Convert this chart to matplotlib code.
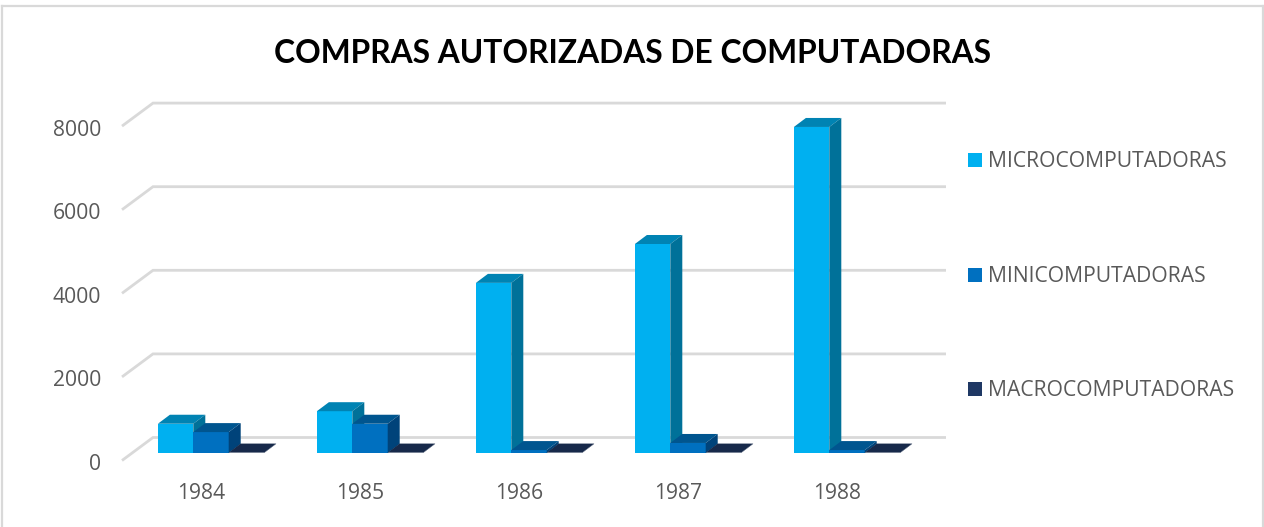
import matplotlib
matplotlib.use("Agg")
import matplotlib.pyplot as plt
from matplotlib.patches import Polygon, Rectangle
from matplotlib.transforms import ScaledTranslation

years = ["1984", "1985", "1986", "1987", "1988"]
micro = [700, 1000, 4070, 5000, 7800]
mini = [500, 700, 70, 240, 70]
macro = [10, 10, 10, 10, 10]
series_names = ["MICROCOMPUTADORAS", "MINICOMPUTADORAS", "MACROCOMPUTADORAS"]
grid_values = [0, 2000, 4000, 6000, 8000]

W, H = 1264, 527
PX_Y = 0.0418  # pixels per unit on the value axis

fig = plt.figure(figsize=(W / 100, H / 100), dpi=100)
plt.rcParams['font.family'] = ['Open Sans', 'DejaVu Sans']

# chart frame, open at the bottom like the reference
for xs, ys in [([2, 2], [527, 6]), ([2, 1263], [6, 6]), ([1263, 1263], [6, 527])]:
    fig.add_artist(plt.Line2D([x / W for x in xs], [1 - y / H for y in ys], color="#d9d9d9", lw=1.6))

# axes box in pixels: front left corner of the floor is (122, 460)
ax_l, ax_r, ax_b, ax_t = 122, 946, 460.5, 95
ax = fig.add_axes([ax_l / W, 1 - ax_b / H, (ax_r - ax_l) / W, (ax_b - ax_t) / H])
ax.set_xlim((ax_l - 211) / 159, (ax_r - 211) / 159)
ax.set_ylim(0, (ax_b - ax_t) / PX_Y)
ax.patch.set_alpha(0)
for s in ax.spines.values():
    s.set_visible(False)

px_x = 1 / 159      # one pixel in x units
px_y = 1 / PX_Y     # one pixel in y units

# gridlines run along the back wall, with a diagonal on the left wall
for v in grid_values:
    ax.plot([(ax_l - 211) / 159, (ax_l - 211) / 159 + 31 * px_x, (ax_r - 211) / 159],
            [v, v + 23 * px_y, v + 23 * px_y], color="#d9d9d9", lw=2, zorder=1,
            solid_capstyle="butt", solid_joinstyle="miter", clip_on=False)

bar_w = 35.4 * px_x
base = 7.5 * px_y
dx, dy = 12 * px_x, 9 * px_y


def bar3d(x0, v, c_front, c_top, c_side, z):
    y0, y1 = base, base + v
    x1 = x0 + bar_w
    ax.add_patch(Rectangle((x0, y0), bar_w, v, fc=c_front, ec="none", zorder=z))
    ax.add_patch(Polygon([(x0, y1), (x1, y1), (x1 + dx, y1 + dy), (x0 + dx, y1 + dy)],
                         fc=c_top, ec="none", zorder=z))
    ax.add_patch(Polygon([(x1, y0), (x1 + dx, y0 + dy), (x1 + dx, y1 + dy), (x1, y1)],
                         fc=c_side, ec="none", zorder=z))


colors = [("#00b0f0", "#0083b3", "#007199"),
          ("#0070c0", "#00558f", "#00437a"),
          ("#1f3864", "#17294a", "#17294a")]

# left to right, each bar covers the side of the one before it
for i in range(len(years)):
    left = i - 1.5 * bar_w
    for j, vals in enumerate([micro, mini, macro]):
        bar3d(left + j * bar_w, vals[i], *colors[j], 3 + j)

ax.set_yticks(grid_values)
ax.set_xticks([i - 10 * px_x for i in range(len(years))])
ax.set_xticklabels(years)
ax.tick_params(axis="both", length=0, labelcolor="#595959", labelsize=15.2)
ax.tick_params(axis="y", pad=15)
ax.tick_params(axis="x", pad=16.5)
for t in ax.get_yticklabels():
    t.set_transform(t.get_transform() + ScaledTranslation(0, -1.5 / 100, fig.dpi_scale_trans))

fig.text(633 / W, 1 - 53.5 / H, "COMPRAS AUTORIZADAS DE COMPUTADORAS", ha="center", va="center",
         fontsize=22.9, fontweight="bold", color="black", family="Lato")

# legend
for name, c, y in zip(series_names, colors, [160, 275, 389]):
    fig.patches.append(Rectangle((968 / W, 1 - (y + 7) / H), 14 / W, 14 / H, fc=c[0], ec="none",
                                 transform=fig.transFigure))
    fig.text(988 / W, 1 - (y + 1.5) / H, name, ha="left", va="center", fontsize=15.2, color="#595959")

plt.savefig("out.png", dpi=100)
